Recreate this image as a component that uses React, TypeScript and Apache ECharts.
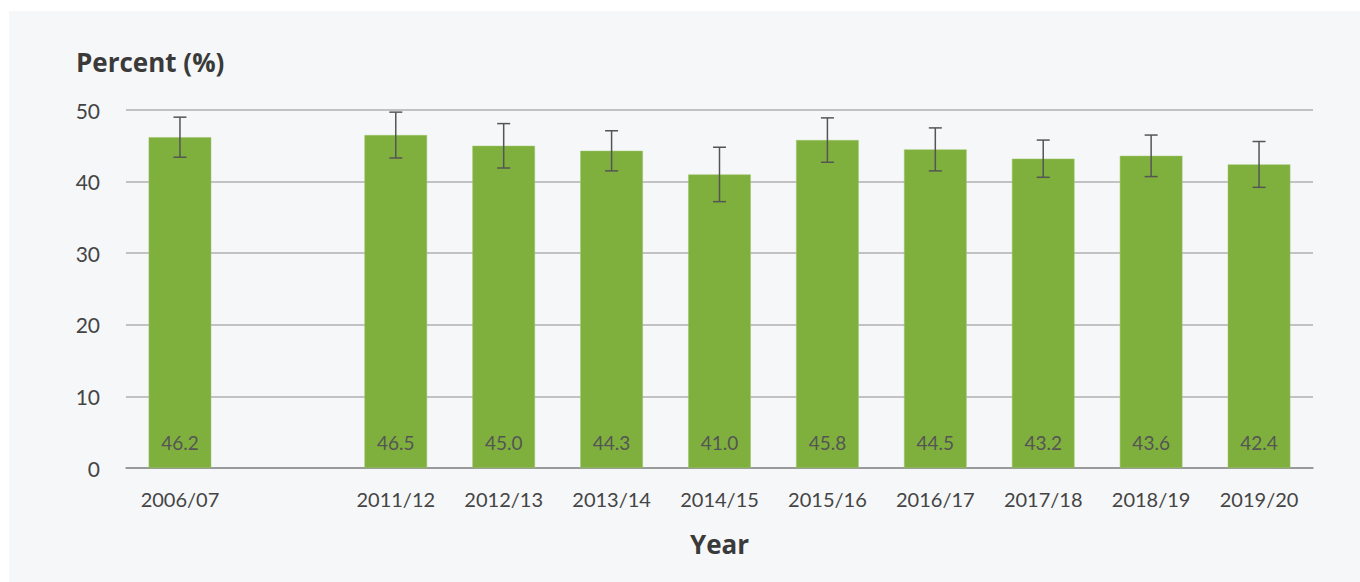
import React, { useEffect, useRef } from "react";
import * as echarts from "echarts";

const categories = ["2006/07", "", "2011/12", "2012/13", "2013/14", "2014/15", "2015/16", "2016/17", "2017/18", "2018/19", "2019/20"];
const values: (number | null)[] = [46.2, null, 46.5, 45.0, 44.3, 41.0, 45.8, 44.5, 43.2, 43.6, 42.4];
const lowerCI: (number | null)[] = [43.4, null, 43.3, 41.9, 41.5, 37.2, 42.7, 41.5, 40.6, 40.7, 39.2];
const upperCI: (number | null)[] = [49.0, null, 49.7, 48.1, 47.1, 44.8, 48.9, 47.5, 45.8, 46.5, 45.6];
const yTicks = [0, 10, 20, 30, 40, 50];

const FONT = "Lato, 'Noto Sans', sans-serif";
const TITLE_FONT = "'Open Sans', 'Noto Sans', sans-serif";

export default function App() {
  const ref = useRef<HTMLDivElement>(null);
  useEffect(() => {
    if (!ref.current) return;
    const chart = echarts.init(ref.current, null, { renderer: "svg" });
    const errData = categories
      .map((_, i) => (lowerCI[i] == null ? null : [i, lowerCI[i], upperCI[i]]))
      .filter((d) => d !== null);
    chart.setOption({
      animation: false,
      backgroundColor: "#ffffff",
      textStyle: { fontFamily: FONT },
      graphic: [
        { type: "rect", z: -10, shape: { x: 9, y: 11, width: 1351, height: 571 }, style: { fill: "#f6f7f9" } },
        {
          type: "text",
          left: 76,
          top: 49,
          style: { text: "Percent (%)", fontFamily: TITLE_FONT, fontSize: 26, fontWeight: "bold", fill: "#3a3a3a" },
        },
      ],
      grid: { left: 126, right: 47, top: 110, bottom: 114 },
      xAxis: {
        type: "category",
        data: categories,
        name: "Year",
        nameLocation: "middle",
        nameGap: 63,
        nameTextStyle: { fontFamily: TITLE_FONT, fontSize: 26, fontWeight: "bold", color: "#3a3a3a" },
        axisLine: { show: true, lineStyle: { color: "#8c8c8c", width: 1.5 } },
        axisTick: { show: false },
        axisLabel: { color: "#444", fontSize: 20, margin: 21, fontFamily: FONT, interval: 0 },
      },
      yAxis: {
        type: "value",
        min: 0,
        max: yTicks[yTicks.length - 1],
        interval: 10,
        axisLine: { show: false },
        axisTick: { show: false },
        axisLabel: { color: "#444", fontSize: 21, margin: 26, fontFamily: FONT },
        splitLine: { lineStyle: { color: "#b0b0b0", width: 1.5 } },
      },
      series: [
        {
          type: "bar",
          data: values.map((v) => (v == null ? "-" : v)),
          barWidth: "58%",
          itemStyle: { color: "#7fb03d", borderColor: "#9cc46a", borderWidth: 0.5 },
          label: {
            show: true,
            position: "insideBottom",
            distance: 16,
            color: "#555",
            fontSize: 19,
            fontFamily: FONT,
            formatter: (p: any) => Number(p.value).toFixed(1),
          },
          z: 2,
        },
        {
          type: "custom",
          z: 5,
          data: errData,
          renderItem: (params: any, api: any) => {
            const x = api.value(0);
            const lo = api.coord([x, api.value(1)]);
            const hi = api.coord([x, api.value(2)]);
            const hw = 6.5;
            const style = { stroke: "#555", lineWidth: 1.5 };
            return {
              type: "group",
              children: [
                { type: "line", shape: { x1: hi[0], y1: hi[1], x2: lo[0], y2: lo[1] }, style },
                { type: "line", shape: { x1: hi[0] - hw, y1: hi[1], x2: hi[0] + hw, y2: hi[1] }, style },
                { type: "line", shape: { x1: lo[0] - hw, y1: lo[1], x2: lo[0] + hw, y2: lo[1] }, style },
              ],
            };
          },
        },
      ],
    });
    return () => chart.dispose();
  }, []);
  return (
    <div style={{ position: "absolute", left: 0, top: 0, width: 1360, height: 582 }}>
      <div ref={ref} style={{ width: 1360, height: 582 }} />
    </div>
  );
}
